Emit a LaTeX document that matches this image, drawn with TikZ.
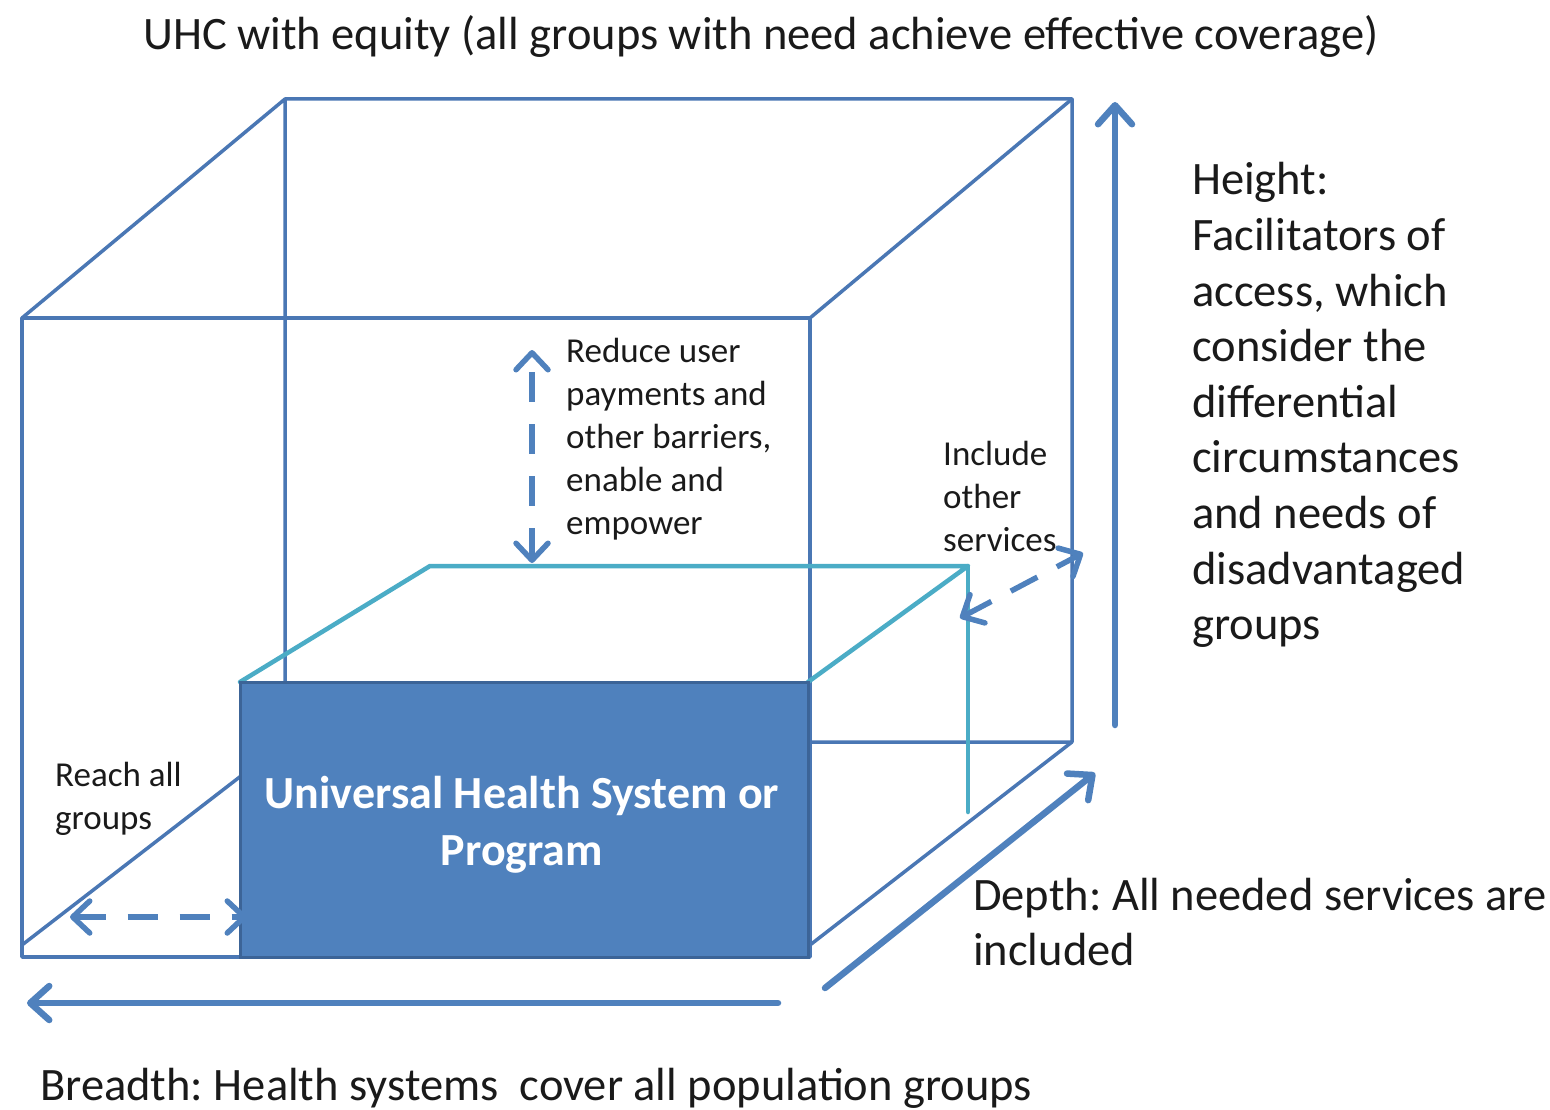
\documentclass[tikz,border=0pt]{standalone}
\usepackage{fontspec}
\setmainfont{Carlito}
\usetikzlibrary{arrows.meta}
\definecolor{cubeblue}{HTML}{4A77B4}
\definecolor{arrblue}{HTML}{4F81BD}
\definecolor{tealc}{HTML}{4BACC6}
\definecolor{boxedge}{HTML}{3C6497}
\definecolor{txt}{HTML}{1A1A1A}
\begin{document}
\frenchspacing
\begin{tikzpicture}[x=1pt,y=-1pt,
  cube/.style={draw=cubeblue, line width=3.5pt, line join=round, line cap=round},
  innerbox/.style={draw=tealc, line width=4.5pt, line cap=round, line join=round},
  bigarrow/.style={draw=arrblue, line width=6.5pt, line cap=round, -{Straight Barb[length=19pt,width=34pt,round]}},
  dasharrow/.style={draw=arrblue, line width=5.5pt, dash pattern=on 30pt off 22pt, {Straight Barb[length=17pt,width=32pt,round]}-{Straight Barb[length=17pt,width=32pt,round]}},
  lbl/.style={inner sep=0pt, anchor=base west, text=txt},
  bigtext/.style={font=\fontsize{46.5}{55.6}\selectfont},
  smalltext/.style={font=\fontsize{35}{43}\selectfont},
]
\useasboundingbox (0,0) rectangle (1550,1110);
% outer cube
\coordinate (FTL) at (22,318);
\coordinate (FTR) at (810,318);
\coordinate (FBR) at (810,957);
\coordinate (FBL) at (22,957);
\coordinate (BTL) at (285,99);
\coordinate (BTR) at (1072,99);
\coordinate (BBR) at (1072,742);
\coordinate (BBL) at (285,742);
\coordinate (DL) at (22,945);
\coordinate (DR) at (810,945);
\draw[cube] (FTL) -- (FTR) -- (FBR) -- (FBL) -- cycle;
\draw[cube] (FTL) -- (BTL) -- (BTR) -- (BBR) -- (BBL) -- (BTL);
\draw[cube] (FTR) -- (BTR);
\draw[cube] (DL) -- (BBL);
\draw[cube] (DR) -- (BBR);
% inner (teal) box
\coordinate (T1) at (240,682);
\coordinate (T2) at (430,566);
\coordinate (T3) at (968,566);
\coordinate (T4) at (808,682);
\coordinate (T5) at (968,812);
\draw[innerbox] (T1) -- (T2) -- (T3) -- (T4);
\draw[innerbox] (T3) -- (T5);
% main box
\node[draw=boxedge, fill=arrblue, line width=3pt, minimum width=568pt, minimum height=275pt, inner sep=0pt] (box) at (524,819.5) {};
\node[inner sep=0pt, text=white, font=\bfseries\fontsize{46}{57}\selectfont, align=center] (boxtext) at (522,825)
      {Universal Health System or\\Program};
% arrows
\coordinate (hb) at (1115,725);
\coordinate (ht) at (1115,102);
\draw[bigarrow] (hb) -- (ht);
\coordinate (db) at (825,988);
\coordinate (dt) at (1095,773);
\draw[bigarrow] (db) -- (dt);
\coordinate (br) at (778,1003);
\coordinate (bl) at (27,1003);
\draw[bigarrow] (br) -- (bl);
\coordinate (ub) at (532,563);
\coordinate (ut) at (532,350);
\draw[dasharrow] (ub) -- (ut);
\coordinate (rl) at (70,917);
\coordinate (rr) at (247,917);
\draw[dasharrow] (rl) -- (rr);
\coordinate (il) at (960,618);
\coordinate (ir) at (1083,553);
\draw[dasharrow] (il) -- (ir);
% texts
\node[lbl, bigtext] (title) at (143,50) {UHC with equity (all groups with need achieve effective coverage)};
\node[lbl, bigtext] (height) at (1192,195) {\vtop{\hbox{Height:}\hbox{Facilitators of}\hbox{access, which}\hbox{consider the}\hbox{differential}\hbox{circumstances}\hbox{and needs of}\hbox{disadvantaged}\hbox{groups}}};
\node[lbl, smalltext] (reduce) at (566,362) {\vtop{\hbox{Reduce user}\hbox{payments and}\hbox{other barriers,}\hbox{enable and}\hbox{empower}}};
\node[lbl, smalltext] (include) at (943,465) {\vtop{\hbox{Include}\hbox{other}\hbox{services}}};
\node[lbl, smalltext] (reach) at (55,786) {\vtop{\hbox{Reach all}\hbox{groups}}};
\node[lbl, bigtext] (depth) at (973,910) {\vtop{\hbox{Depth: All needed services are}\hbox{included}}};
\node[lbl, bigtext] (breadth) at (40,1100) {Breadth: Health systems\ \ cover all population groups};
\end{tikzpicture}
\end{document}
